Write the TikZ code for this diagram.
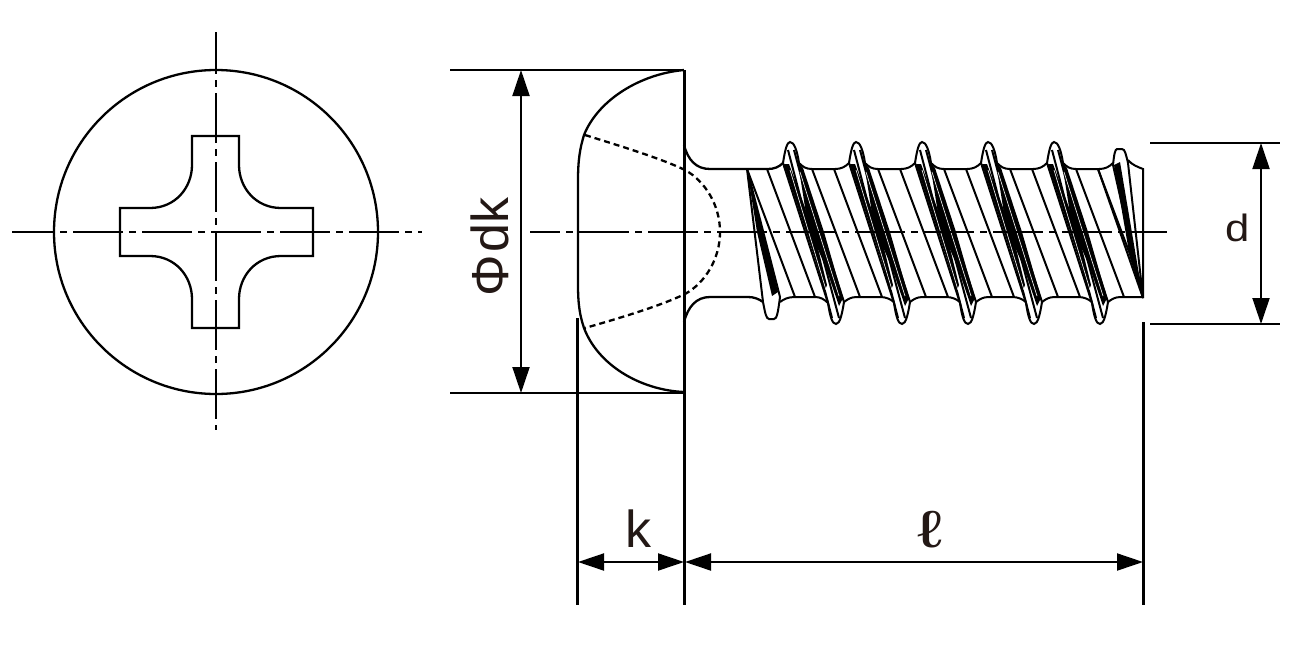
\documentclass[tikz,border=0pt]{standalone}
\usepackage{fontspec}
\setmainfont{Liberation Sans}
\usetikzlibrary{arrows.meta}
\definecolor{labelink}{HTML}{231815}
\tikzset{
	outline/.style={line width=1.15pt, black},
	thin line/.style={line width=1pt, black},
	centre line/.style={line width=1.25pt, black, dash pattern=on 25pt off 3pt on 3.5pt off 3pt},
	hidden line/.style={line width=1.15pt, black, dash pattern=on 3pt off 2pt},
	dimension/.style={line width=1pt, black, {Triangle[length=13pt,width=8.5pt]}-{Triangle[length=13pt,width=8.5pt]}},
	dim label/.style={font=\fontsize{26}{26}\selectfont, text=labelink, inner sep=0pt},
}
% one full turn of the thread, drawn at its first position
\def\threadridge#1{
	\begin{scope}[xshift=#1*0.5pt]
		\draw[thin line, fill=white] (783, 163) .. controls (785, 150) and (787, 142) .. (790, 142)
			.. controls (794, 142) and (797, 150) .. (799, 163) -- (844, 302)
			.. controls (842, 314) and (840, 324) .. (836, 324)
			.. controls (832, 324) and (830, 316) .. (828, 303) -- cycle;
		\draw[thin line] (794, 150) -- (839, 318);
		\draw[thin line] (788, 150) -- (832, 318);
		\fill[black] (784, 164) -- (789, 164) -- (814, 232) -- (827, 285) -- (825, 290) -- cycle;
		\fill[black] (798, 163) -- (803, 168) -- (824, 232) -- (843, 298) -- (839, 306) -- (826, 268) -- (808, 226) -- cycle;
		\draw[white, line width=0.3pt] (790, 170) -- (826, 290);
		\draw[white, line width=0.3pt] (800, 172) -- (839, 296);
		\draw[thin line] (799, 163) .. controls (803, 167) and (806, 169) .. (812, 169) -- (835, 169)
			.. controls (841, 169) and (845, 167) .. (849, 163);
		\draw[thin line] (844, 302) .. controls (848, 299) and (851, 297) .. (857, 297) -- (880, 297)
			.. controls (886, 297) and (890, 299) .. (894, 302);
		\draw[thin line] (812, 169) -- (860, 297);
		\draw[thin line] (834, 169) -- (882, 297);
	\end{scope}
}
\begin{document}
\begin{tikzpicture}[x=0.5pt, y=-0.5pt]
	\useasboundingbox (0, 0) rectangle (1304, 648);
	%%%%% HEAD FROM ABOVE %%%%%
	\draw[outline] (216, 232) circle [radius=81pt];
	\draw[outline] (192, 136) -- (239, 136) -- (239, 165) .. controls (239, 188) and (256, 208) .. (281, 208)
		-- (313, 208) -- (313, 256) -- (281, 256) .. controls (256, 256) and (239, 276) .. (239, 299)
		-- (239, 328) -- (192, 328) -- (192, 299) .. controls (192, 276) and (175, 256) .. (150, 256)
		-- (120, 256) -- (120, 208) -- (150, 208) .. controls (175, 208) and (192, 188) .. (192, 165) -- cycle;
	\draw[centre line, dash phase=4pt] (12, 232) -- (422, 232);
	\draw[centre line, dash phase=4pt] (216, 32) -- (216, 430);

	%%%%% SHANK %%%%%
	\draw[outline] (684, 145) .. controls (688, 160) and (696, 169) .. (710, 169) -- (768, 169)
		.. controls (774, 169) and (779, 167) .. (783, 163);
	\draw[outline] (684, 322) .. controls (688, 307) and (696, 297) .. (710, 297) -- (748, 297)
		.. controls (754, 297) and (759, 299) .. (763, 302);

	% first thread start
	\draw[thin line, fill=white] (747, 169) -- (763, 302) .. controls (765, 312) and (766, 319) .. (769, 319)
		-- (774, 319) .. controls (777, 319) and (778, 312) .. (780, 297) -- cycle;
	\fill[black] (747, 169) -- (778, 292) -- (772, 296) -- (757, 232) -- cycle;
	\draw[thin line] (767, 169) -- (815, 297);
	\draw[thin line] (747, 169) -- (795, 297);
	\draw[thin line] (780, 302) .. controls (784, 299) and (788, 297) .. (795, 297);
	\draw[thin line] (795, 297) -- (815, 297) .. controls (820, 297) and (824, 299) .. (828, 303);

	\begin{scope}
		\clip (740, 130) rectangle (1143.5, 330);
		\threadridge{0}
		\threadridge{66}
		\threadridge{132}
		\threadridge{198}
		\threadridge{264}
	\end{scope}

	% thread run out at the tip
	\draw[thin line] (1098, 169) -- (1143, 298);
	\draw[thin line, fill=white] (1113, 165) .. controls (1114, 155) and (1115, 149) .. (1117, 149) -- (1122, 149)
		.. controls (1125, 149) and (1126, 155) .. (1128, 163) -- (1143, 298) -- cycle;
	\fill[black] (1114, 165) -- (1120, 162) -- (1143, 298) -- (1130, 258) -- cycle;
	\draw[thin line] (1128, 160) .. controls (1132, 165) and (1138, 167) .. (1143, 169) -- (1143, 298);

	%%%%% HEAD FROM THE SIDE %%%%%
	\draw[outline] (684, 70) .. controls (640, 74) and (598, 100) .. (584, 135)
		.. controls (580, 148) and (578, 160) .. (578, 180) -- (578, 285)
		.. controls (578, 305) and (580, 316) .. (584, 328)
		.. controls (598, 365) and (640, 390) .. (684, 392);
	\draw[hidden line] (585, 135) .. controls (620, 146) and (660, 158) .. (685, 170)
		.. controls (705, 181) and (720, 205) .. (720, 232)
		.. controls (720, 259) and (705, 283) .. (685, 294)
		.. controls (660, 306) and (620, 318) .. (585, 328);
	\draw[centre line, dash phase=10pt] (530, 232) -- (1167, 232);

	%%%%% DIMENSIONS %%%%%
	\draw[outline] (450, 70) -- (684, 70);
	\draw[outline] (450, 393) -- (684, 393);
	\draw[outline] (684.5, 70) -- (684.5, 605);
	\draw[outline] (577.5, 318) -- (577.5, 605);
	\draw[outline] (1143.5, 322) -- (1143.5, 605);
	\draw[outline] (1150, 143) -- (1280, 143);
	\draw[outline] (1150, 324) -- (1280, 324);
	\coordinate (dkTop) at (521, 70);
	\coordinate (dkBottom) at (521, 393);
	\coordinate (kLeft) at (578, 562);
	\coordinate (kRight) at (684, 562);
	\coordinate (lLeft) at (685, 562);
	\coordinate (lRight) at (1143, 562);
	\coordinate (dTop) at (1261, 143);
	\coordinate (dBottom) at (1261, 324);
	\draw[dimension] (dkTop) -- (dkBottom);
	\draw[dimension] (kLeft) -- (kRight);
	\draw[dimension] (lLeft) -- (lRight);
	\draw[dimension] (dTop) -- (dBottom);
	\node[dim label, rotate=90] (dkLabel) at (490, 247) {Φ\kern1pt dk};
	\node[dim label] (kLabel) at (638, 529) {k};
	\node[dim label] (lLabel) at (930, 530) {\scalebox{1.5}[1]{ℓ}};
	\node[dim label, font=\fontsize{19}{19}\selectfont] (dLabel) at (1238, 228) {\scalebox{1.15}[1]{d}};
\end{tikzpicture}
\end{document}
